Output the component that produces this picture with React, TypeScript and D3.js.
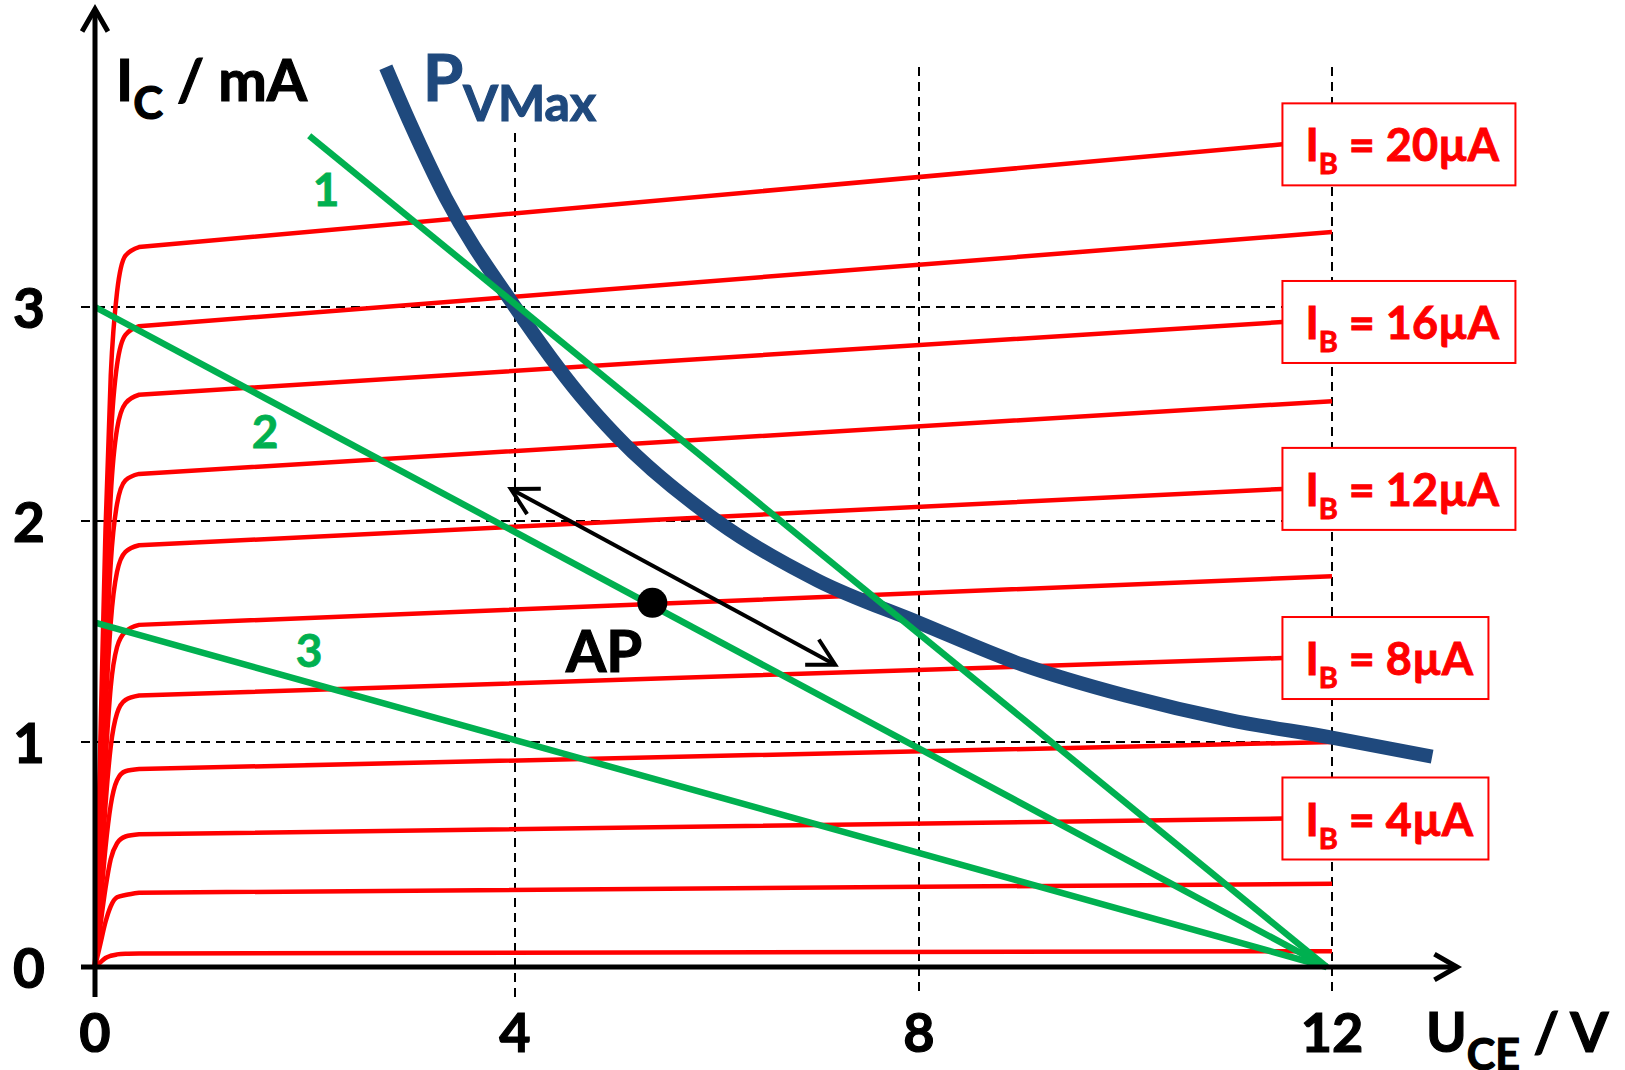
import React from 'react'
import * as d3 from 'd3'

// axis ticks
const X_TICKS = [0, 4, 8, 12]
const Y_TICKS = [0, 1, 2, 3]

// base currents in uA, top curve first
const IB_LEVELS = [20, 18, 16, 14, 12, 10, 8, 6, 4, 2, 0]
const LABELED_IB = [20, 16, 12, 8, 4]

// output characteristics, [U_CE in V, I_C in mA]
// (knee points, last point is the far end of the straight part)
const IB_CURVES: [number, number][][] = [
  [[0, 0], [0.05, 0.98], [0.1, 1.96], [0.15, 2.68], [0.21, 3.07], [0.29, 3.24], [0.42, 3.28], [11.52, 3.76]],
  [[0, 0], [0.05, 0.87], [0.1, 1.74], [0.15, 2.38], [0.21, 2.73], [0.29, 2.87], [0.42, 2.91], [12, 3.35]],
  [[0, 0], [0.05, 0.77], [0.1, 1.55], [0.15, 2.12], [0.21, 2.43], [0.29, 2.55], [0.42, 2.59], [11.52, 2.93]],
  [[0, 0], [0.05, 0.66], [0.1, 1.33], [0.15, 1.81], [0.21, 2.08], [0.29, 2.19], [0.42, 2.22], [12, 2.56]],
  [[0, 0], [0.05, 0.56], [0.1, 1.13], [0.15, 1.54], [0.21, 1.77], [0.29, 1.86], [0.42, 1.89], [11.52, 2.15]],
  [[0, 0], [0.05, 0.46], [0.1, 0.91], [0.15, 1.25], [0.21, 1.43], [0.29, 1.5], [0.42, 1.53], [12, 1.75]],
  [[0, 0], [0.05, 0.36], [0.1, 0.72], [0.15, 0.98], [0.21, 1.13], [0.29, 1.19], [0.42, 1.21], [11.52, 1.38]],
  [[0, 0], [0.05, 0.26], [0.1, 0.53], [0.15, 0.72], [0.21, 0.83], [0.29, 0.87], [0.42, 0.88], [12, 1.0]],
  [[0, 0], [0.05, 0.18], [0.1, 0.35], [0.15, 0.48], [0.21, 0.55], [0.29, 0.58], [0.42, 0.59], [11.52, 0.66]],
  [[0, 0], [0.05, 0.1], [0.1, 0.2], [0.15, 0.27], [0.21, 0.31], [0.29, 0.32], [0.42, 0.33], [12, 0.37]],
  [[0, 0], [0.05, 0.02], [0.1, 0.04], [0.15, 0.05], [0.21, 0.056], [0.29, 0.059], [0.42, 0.06], [12, 0.07]],
]

// load lines
const LOAD_LINE_1: [number, number][] = [[2.04, 3.8], [11.95, 0]]
const LOAD_LINE_2: [number, number][] = [[0, 3.0], [11.95, 0]]
const LOAD_LINE_3: [number, number][] = [[0, 1.54], [11.95, 0]]
const LOAD_LINES = [LOAD_LINE_1, LOAD_LINE_2, LOAD_LINE_3]
const LOAD_LABELS = ['1', '2', '3']
const LOAD_LABEL_POS: [number, number][] = [[2.2, 3.47], [1.62, 2.34], [2.04, 1.34]]

// max power hyperbola
const PV_U = [2.77, 3.0, 3.34, 4.0, 4.64, 5.0, 6.0, 7.0, 8.0, 9.0, 10.0, 11.0, 12.0, 12.97]
const PV_I = [4.12, 3.86, 3.51, 3.0, 2.59, 2.4, 2.0, 1.73, 1.54, 1.35, 1.21, 1.1, 1.02, 0.935]

// operating point and its swing
const AP: [number, number] = [5.36, 1.63]
const AP_SWING: [number, number][] = [[3.96, 2.15], [7.17, 1.35]]

const RED = '#FF0000'
const GREEN = '#00B050'
const BLUE = '#1F497D'
const FONT = 'Lato, "Open Sans", sans-serif'

const xScale = d3.scaleLinear().domain(X_TICKS).range([95, 515, 919, 1332])
const yScale = d3.scaleLinear().domain(Y_TICKS).range([967, 742, 521, 307])

const curveLine = d3.line<[number, number]>()
  .x(d => xScale(d[0]))
  .y(d => yScale(d[1]))
  .curve(d3.curveMonotoneX)

const straight = d3.line<[number, number]>()
  .x(d => xScale(d[0]))
  .y(d => yScale(d[1]))

// rounded knee, then a straight run to the end point
function ibPath(c: [number, number][]) {
  const end = c[c.length - 1]
  return (curveLine(c.slice(0, -1)) || '') + `L${xScale(end[0])},${yScale(end[1])}`
}

function arrowHead(tip: [number, number], from: [number, number], len: number, spread: number) {
  const ang = Math.atan2(from[1] - tip[1], from[0] - tip[0])
  const a1 = ang + spread, a2 = ang - spread
  return `M${tip[0] + len * Math.cos(a1)},${tip[1] + len * Math.sin(a1)}L${tip[0]},${tip[1]}L${tip[0] + len * Math.cos(a2)},${tip[1] + len * Math.sin(a2)}`
}

// heavier glyphs, closer to the original bold face
const heavy = (c: string) => ({ fill: c, stroke: c, strokeWidth: 1.2, paintOrder: 'stroke' as const })

export default function App() {
  const x0 = xScale(0), y0 = yScale(0)
  const pv: [number, number][] = PV_U.map((u, i) => [u, PV_I[i]])
  const s0: [number, number] = [xScale(AP_SWING[0][0]), yScale(AP_SWING[0][1])]
  const s1: [number, number] = [xScale(AP_SWING[1][0]), yScale(AP_SWING[1][1])]

  return (
    <svg width={1625} height={1070} style={{ position: 'absolute', left: 0, top: 0, background: '#fff' }}
      fontFamily={FONT} fontWeight="bold">
      {/* dashed grid */}
      <g stroke="#000" strokeWidth={2} strokeDasharray="9,6" fill="none">
        {X_TICKS.slice(1).map(t => (
          <line key={'gx' + t} x1={xScale(t)} x2={xScale(t)} y1={t === 4 ? 133 : 67} y2={997} />
        ))}
        {Y_TICKS.slice(1).map(t => (
          <line key={'gy' + t} x1={81} x2={xScale(12)} y1={yScale(t)} y2={yScale(t)} />
        ))}
      </g>

      {/* characteristics */}
      <g stroke={RED} strokeWidth={4.5} fill="none">
        {IB_CURVES.map((c, i) => <path key={'ib' + IB_LEVELS[i]} d={ibPath(c)} />)}
      </g>

      {/* P_Vmax */}
      <path d={curveLine(pv) || ''} stroke={BLUE} strokeWidth={14} fill="none" />

      {/* load lines */}
      <g stroke={GREEN} strokeWidth={6.5} fill="none">
        {LOAD_LINES.map((l, i) => <path key={'ll' + i} d={straight(l) || ''} />)}
      </g>
      {LOAD_LABELS.map((t, i) => (
        <text key={'lt' + t} x={xScale(LOAD_LABEL_POS[i][0])} y={yScale(LOAD_LABEL_POS[i][1])}
          {...heavy(GREEN)} strokeWidth={0.8} fontSize={46} textAnchor="middle">{t}</text>
      ))}

      {/* IB labels */}
      {LABELED_IB.map(ib => {
        const c = IB_CURVES[IB_LEVELS.indexOf(ib)]
        const end = c[c.length - 1]
        const bx = xScale(end[0])
        const cy = yScale(end[1])
        const w = String(ib).length > 1 ? 233 : 206
        return (
          <g key={'box' + ib}>
            <rect x={bx} y={cy - 41} width={w} height={82} fill="#fff" stroke={RED} strokeWidth={2} />
            <text x={bx + 23} y={cy + 17} {...heavy(RED)} strokeWidth={0.9} fontSize={45}>
              I<tspan fontSize={29} dy={13}>B</tspan><tspan dy={-13}>{` = ${ib}µA`}</tspan>
            </text>
          </g>
        )
      })}

      {/* operating point swing */}
      <g stroke="#000" strokeWidth={4} fill="none">
        <line x1={s0[0]} y1={s0[1]} x2={s1[0]} y2={s1[1]} />
        <path d={arrowHead(s0, s1, 30, 0.5)} />
        <path d={arrowHead(s1, s0, 30, 0.5)} />
      </g>
      <circle cx={xScale(AP[0])} cy={yScale(AP[1])} r={15} fill="#000" />
      <text x={604} y={672} fontSize={58} textAnchor="middle" {...heavy('#000')}>AP</text>

      {/* axes */}
      <g stroke="#000" strokeWidth={5} fill="none">
        <line x1={x0} x2={x0} y1={997} y2={10} />
        <line x1={81} x2={1456} y1={y0} y2={y0} />
        <path d={arrowHead([x0, 9], [x0, 100], 26, 0.52)} />
        <path d={arrowHead([1457, y0], [1300, y0], 26, 0.52)} />
      </g>

      {/* tick labels */}
      {Y_TICKS.map(t => (
        <text key={'yt' + t} x={29} y={yScale(t) + 21} fontSize={55} textAnchor="middle" {...heavy('#000')}>{t}</text>
      ))}
      {X_TICKS.map(t => (
        <text key={'xt' + t} x={xScale(t)} y={1052} fontSize={54} textAnchor="middle" {...heavy('#000')}>{t}</text>
      ))}

      {/* axis titles */}
      <text x={116} y={101} fontSize={58} {...heavy('#000')}>
        I<tspan fontSize={45} dy={18}>C</tspan><tspan dy={-18}> / mA</tspan>
      </text>
      <text x={1426} y={1052} fontSize={55} {...heavy('#000')}>
        U<tspan fontSize={43} dy={18}>CE</tspan><tspan dy={-18}> / V</tspan>
      </text>
      <text x={423} y={101} fontSize={65} {...heavy(BLUE)}>
        P<tspan fontSize={50} dy={20}>VMax</tspan>
      </text>
    </svg>
  )
}
